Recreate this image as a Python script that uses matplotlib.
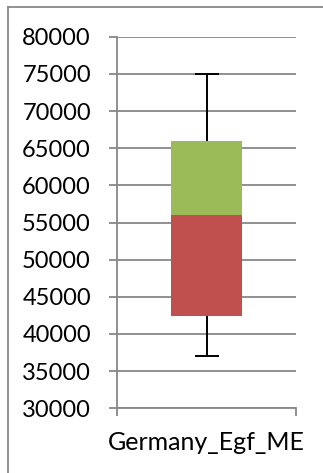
import matplotlib
matplotlib.use("Agg")
import matplotlib.pyplot as plt
from matplotlib.lines import Line2D

# Box-plot summary for one category, drawn as stacked bars with whiskers
category = ["Germany_Egf_ME"]
whisker_low = [37000]
q1 = [42400]
median = [56000]
q3 = [66000]
whisker_high = [75000]
y_ticks = [30000, 35000, 40000, 45000, 50000, 55000, 60000, 65000, 70000, 75000, 80000]

W, H = 323, 473
fig = plt.figure(figsize=(W / 100, H / 100), dpi=100)
fig.patch.set_facecolor("white")

plt.rcParams["font.family"] = ["Lato", "DejaVu Sans"]

# outer chart frame (only left and top edges fall inside the image)
frame_color = "#888888"
fig.add_artist(Line2D([7.5 / W, 7.5 / W], [0, 1 - 7.5 / H], transform=fig.transFigure,
                      color=frame_color, lw=1.3))
fig.add_artist(Line2D([7.5 / W, 1.0], [1 - 7.5 / H, 1 - 7.5 / H], transform=fig.transFigure,
                      color=frame_color, lw=1.3))

left, right, top, bottom = 117, 296, 36.7, 408.3
ax = fig.add_axes([left / W, (H - bottom) / H, (right - left) / W, (bottom - top) / H])

grid_color = "#878787"
x = [0.5]
lower = [m - a for m, a in zip(median, q1)]
upper = [b - m for m, b in zip(median, q3)]

ax.bar(x, lower, bottom=q1, width=0.4, color="#C0504D", zorder=3)
ax.bar(x, upper, bottom=median, width=0.4, color="#9BBB59", zorder=3)
ax.errorbar(x, median,
            yerr=[[m - lo for m, lo in zip(median, whisker_low)],
                  [hi - m for m, hi in zip(median, whisker_high)]],
            fmt="none", ecolor="black", elinewidth=1.4, capsize=8.6, capthick=1.4, zorder=2)

ax.set_xlim(0, 1)
ax.set_ylim(y_ticks[0], y_ticks[-1])
ax.set_yticks(y_ticks)
ax.set_yticklabels([str(v) for v in y_ticks], fontsize=17)
ax.yaxis.grid(True, color=grid_color, lw=1.3, zorder=0)
ax.set_axisbelow(True)

ax.set_xticks([0, 1])
ax.set_xticklabels(["", ""])
ax.set_xticks([0.5], minor=True)
ax.set_xticklabels(category, minor=True, fontsize=18)
ax.tick_params(axis="x", which="major", direction="out", length=5.8, width=1.3, color=grid_color)
ax.tick_params(axis="x", which="minor", length=0, pad=16)
ax.tick_params(axis="y", direction="out", length=5.8, width=1.3, color=grid_color, pad=13)

for side in ("top", "right"):
    ax.spines[side].set_visible(False)
for side in ("left", "bottom"):
    ax.spines[side].set_color(grid_color)
    ax.spines[side].set_linewidth(1.3)

fig.savefig("out.png", dpi=100)
